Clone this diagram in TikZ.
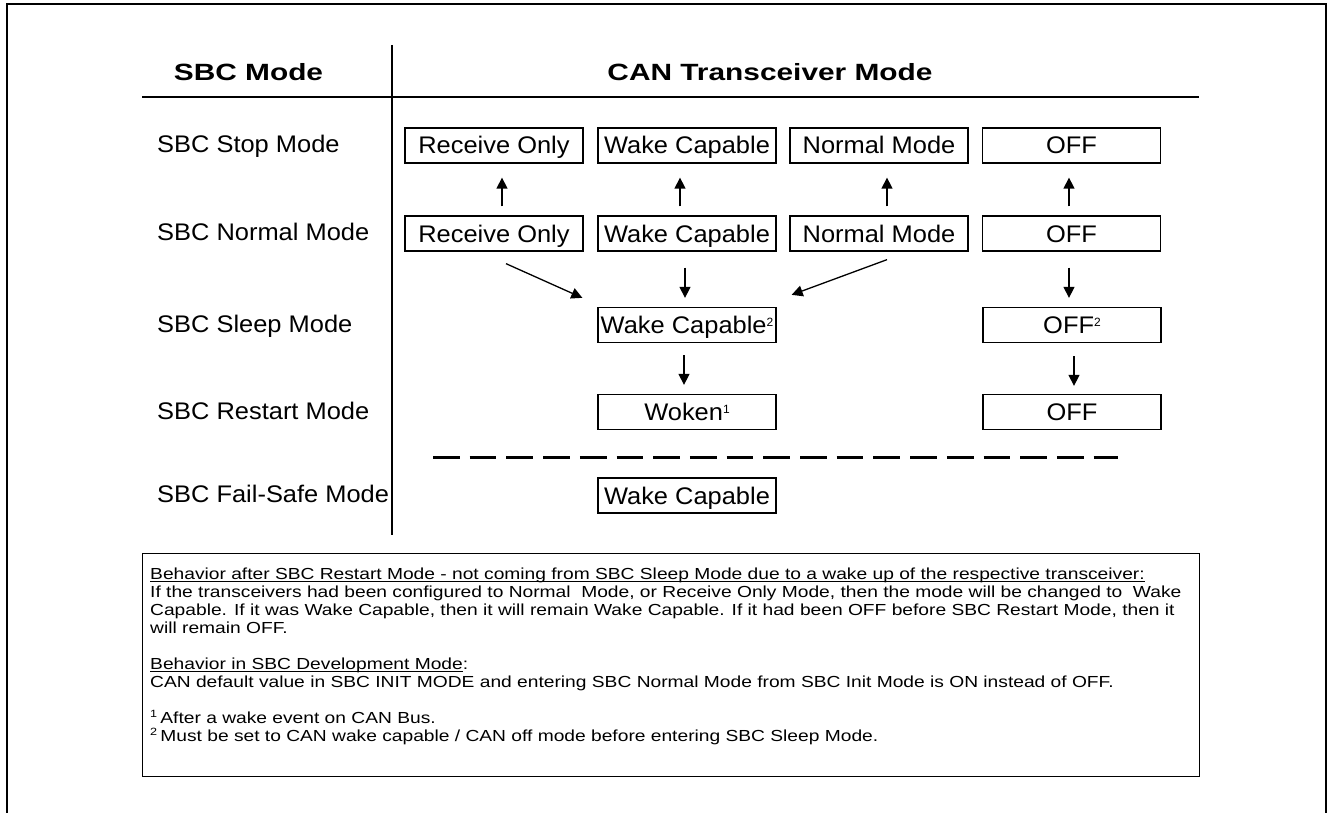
\documentclass[tikz,border=0pt]{standalone}
\usepackage{fontspec}
\setmainfont{Liberation Sans}
\usepackage{graphicx}
\usetikzlibrary{arrows.meta}
\newsavebox\ulbox
\newcommand\ulx[1]{\sbox\ulbox{#1}\rlap{\rule[-2.6pt]{\wd\ulbox}{0.9pt}}\usebox\ulbox}
\newcommand\wx[1]{\scalebox{1.06}[1]{#1}}
\newcommand\hx[1]{\scalebox{1.27}[1]{#1}}
\newcommand\bx[1]{\scalebox{1.2}[1]{#1}}
\newcommand\sups[1]{\raisebox{7pt}{\fontsize{12}{12}\selectfont #1}}
\newcommand\fns[1]{\raisebox{6pt}{\fontsize{10.5}{10.5}\selectfont #1}}
\begin{document}
\begin{tikzpicture}[x=1pt,y=-1pt,
  mbox/.style={draw, line width=1.3pt, minimum width=178pt, minimum height=35pt, inner sep=0pt,
    text height=17pt, text depth=0pt, font=\fontsize{24}{28}\selectfont},
  rowlbl/.style={anchor=base west, inner sep=0pt, font=\fontsize{24}{28}\selectfont},
  head/.style={anchor=base, inner sep=0pt, font=\fontsize{23.5}{28}\selectfont\bfseries},
  arr/.style={line width=1.3pt, -{Triangle[length=11pt,width=11pt]}},
  rulel/.style={line width=1.3pt},
  note/.style={anchor=base west, inner sep=0pt, font=\fontsize{16}{18}\selectfont}]
\useasboundingbox (0,0) rectangle (1332,813);
% frame
\coordinate (fa) at (7,813); \coordinate (fb) at (7,4);
\coordinate (fc) at (1326,4); \coordinate (fd) at (1326,813);
\draw[line width=1.5pt] (fa) -- (fb) -- (fc) -- (fd);
% headings
\node[head] (h1) at (248.5,81) {\hx{SBC Mode}};
\node[head] (h2) at (770,81) {\hx{CAN Transceiver Mode}};
\coordinate (ha) at (142,97); \coordinate (hb) at (1199,97);
\draw[rulel] (ha) -- (hb);
\coordinate (va) at (392,45); \coordinate (vb) at (392,535);
\draw[rulel] (va) -- (vb);
% row labels
\node[rowlbl] (r1) at (157,152.5) {\wx{SBC Stop Mode}};
\node[rowlbl] (r2) at (157,240.5) {\wx{SBC Normal Mode}};
\node[rowlbl] (r3) at (157,332) {\wx{SBC Sleep Mode}};
\node[rowlbl] (r4) at (157,419) {\wx{SBC Restart Mode}};
\node[rowlbl] (r5) at (157,502.5) {\wx{SBC Fail-Safe Mode}};
% stop row
\node[mbox] (s1) at (494,145.5) {\wx{Receive Only}};
\node[mbox] (s2) at (687,145.5) {\wx{Wake Capable}};
\node[mbox] (s3) at (879,145.5) {\wx{Normal Mode}};
\node[mbox] (s4) at (1071.5,145.5) {\wx{OFF}};
% normal row
\node[mbox] (n1) at (494,233.5) {\wx{Receive Only}};
\node[mbox] (n2) at (687,233.5) {\wx{Wake Capable}};
\node[mbox] (n3) at (879,233.5) {\wx{Normal Mode}};
\node[mbox] (n4) at (1071.5,233.5) {\wx{OFF}};
% sleep row
\node[mbox] (w) at (687,325) {\wx{Wake Capable}\sups{2}};
\node[mbox] (o2) at (1072,325) {\wx{OFF}\sups{2}};
% restart row
\node[mbox] (k) at (687,412) {\wx{Woken}\sups{1}};
\node[mbox] (o3) at (1072,412) {\wx{OFF}};
% fail-safe row
\node[mbox] (f) at (687,495.5) {\wx{Wake Capable}};
% arrows up
\draw[arr] ([xshift=8pt,yshift=9pt]n1.north) -- ([xshift=8pt,yshift=-14pt]s1.south);
\draw[arr] ([xshift=-7pt,yshift=9pt]n2.north) -- ([xshift=-7pt,yshift=-14pt]s2.south);
\draw[arr] ([xshift=8pt,yshift=9pt]n3.north) -- ([xshift=8pt,yshift=-14pt]s3.south);
\draw[arr] ([xshift=-2.5pt,yshift=9pt]n4.north) -- ([xshift=-2.5pt,yshift=-14pt]s4.south);
% normal -> sleep
\draw[arr] ([xshift=12pt,yshift=-12pt]n1.south) -- ([xshift=-15pt,yshift=9pt]w.north west);
\draw[arr] ([xshift=-2pt,yshift=-16pt]n2.south) -- ([xshift=-2pt,yshift=9pt]w.north);
\draw[arr] ([xshift=8pt,yshift=-8pt]n3.south) -- ([xshift=15pt,yshift=12pt]w.north east);
\draw[arr] ([xshift=-2.5pt,yshift=-16pt]n4.south) -- ([xshift=-3pt,yshift=9pt]o2.north);
% sleep -> restart
\draw[arr] ([xshift=-3pt,yshift=-12pt]w.south) -- ([xshift=-3pt,yshift=9pt]k.north);
\draw[arr] ([xshift=2pt,yshift=-13pt]o2.south) -- ([xshift=2pt,yshift=8pt]o3.north);
% dashed separator
\coordinate (da) at (433,457); \coordinate (db) at (1118,457);
\draw[line width=3pt, dash pattern=on 26.7pt off 10pt] (da) -- (db);
% notes box
\node[draw, line width=1.3pt, anchor=north west, minimum width=1057pt, minimum height=223pt, inner sep=0pt] (nb) at (142,553) {};
\node[note] (t1) at (150,579.5) {\bx{\ulx{Behavior after SBC Restart Mode - not coming from SBC Sleep Mode due to a wake up of the respective transceiver:}}};
\node[note] (t2) at (150,597.5) {\bx{If the transceivers had been configured to Normal\ \ Mode, or Receive Only Mode, then the mode will be changed to\ \ Wake}};
\node[note] (t3) at (150,615.5) {\bx{Capable. If it was Wake Capable, then it will remain Wake Capable. If it had been OFF before SBC Restart Mode, then it}};
\node[note] (t4) at (150,633.5) {\bx{will remain OFF.}};
\node[note] (t5) at (150,669.5) {\bx{\ulx{Behavior in SBC Development Mode}:}};
\node[note] (t6) at (150,687.5) {\bx{CAN default value in SBC INIT MODE and entering SBC Normal Mode from SBC Init Mode is ON instead of OFF.}};
\node[note] (t7) at (150,723.5) {\bx{\fns{1}\,After a wake event on CAN Bus.}};
\node[note] (t8) at (150,741.5) {\bx{\fns{2}\,Must be set to CAN wake capable / CAN off mode before entering SBC Sleep Mode.}};
\end{tikzpicture}
\end{document}
